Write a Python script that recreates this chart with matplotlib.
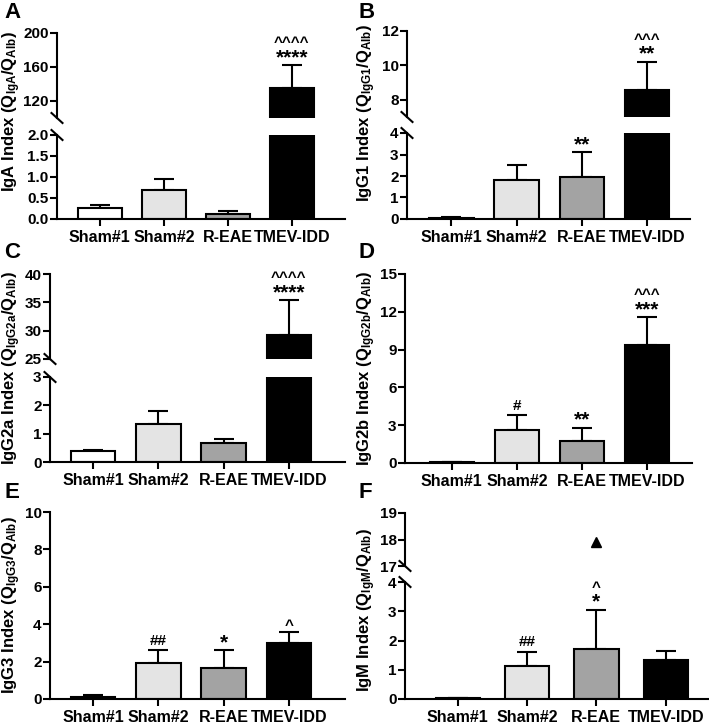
import matplotlib
matplotlib.use("Agg")
import matplotlib.pyplot as plt
from matplotlib.ticker import FormatStrFormatter

plt.rcParams['font.family'] = ['Liberation Sans', 'DejaVu Sans']
plt.rcParams['font.weight'] = 'bold'
plt.rcParams['mathtext.fontset'] = 'custom'
plt.rcParams['mathtext.rm'] = 'Liberation Sans:bold'
plt.rcParams['mathtext.bf'] = 'Liberation Sans:bold'
plt.rcParams['mathtext.it'] = 'Liberation Sans:bold:italic'

# ---------------- data ----------------
groups = ['Sham#1', 'Sham#2', 'R-EAE', 'TMEV-IDD']
bar_colors = ['white', '#e4e4e4', '#a3a3a3', 'black']

iga_mean = [0.25, 0.70, 0.13, 135.0]
iga_sem = [0.08, 0.25, 0.05, 27.0]
igg1_mean = [0.05, 1.80, 1.95, 8.55]
igg1_sem = [0.02, 0.70, 1.15, 1.65]
igg2a_mean = [0.38, 1.35, 0.68, 29.2]
igg2a_sem = [0.04, 0.45, 0.14, 6.2]
igg2b_mean = [0.05, 2.65, 1.75, 9.35]
igg2b_sem = [0.03, 1.15, 1.05, 2.2]
igg3_mean = [0.12, 1.95, 1.65, 3.0]
igg3_sem = [0.10, 0.65, 0.95, 0.6]
igm_mean = [0.03, 1.12, 1.70, 1.35]
igm_sem = [0.02, 0.50, 1.35, 0.30]
igm_outlier_group = 2
igm_outlier_value = 17.9

iga_sig = ['', '', '', '^^^^\n****']
igg1_sig = ['', '', '**', '^^^\n**']
igg2a_sig = ['', '', '', '^^^^\n****']
igg2b_sig = ['', '#', '**', '^^^\n***']
igg3_sig = ['', '##', '*', '^']
igm_sig = ['', '##', '^\n*', '']

# ---------------- layout ----------------
W, H = 709, 724
fig = plt.figure(figsize=(W / 100, H / 100), dpi=100)


def rect(l, t, r, b):
    return [l / W, 1 - b / H, (r - l) / W, (b - t) / H]


LW = 1.5


def style(ax, bottom=True):
    for s in ['top', 'right']:
        ax.spines[s].set_visible(False)
    ax.spines['left'].set_linewidth(LW)
    ax.spines['bottom'].set_linewidth(LW)
    ax.tick_params(axis='y', direction='out', length=5, width=LW, labelsize=11, pad=1)
    for lab in ax.get_yticklabels():
        lab.set_fontweight('bold')
    if bottom:
        ax.tick_params(axis='x', direction='out', length=5, width=LW, labelsize=11.5, pad=3)
        ax.set_xticks(range(len(groups)))
        ax.set_xticklabels(groups, fontweight='bold')
    else:
        ax.spines['bottom'].set_visible(False)
        ax.tick_params(axis='x', bottom=False, labelbottom=False)


SYM = {'*': (15, 1.5), '^': (11, 1.0), '#': (11, 4.0)}


def annotate(ax, x, y, text):
    if not text:
        return
    lines = text.split('\n')[::-1]
    off = 0
    for k, line in enumerate(lines):
        size, base = SYM[line[0]]
        off = base if k == 0 else off + 11.5
        ax.annotate(line, (x, y), xytext=(0, off), textcoords='offset points',
                    ha='center', va='baseline', fontsize=size, fontweight='bold',
                    annotation_clip=False)


def draw_bars(ax, mean, sem, width):
    x = list(range(len(groups)))
    ax.bar(x, mean, width=width, color=bar_colors, edgecolor='black', linewidth=LW, zorder=2)
    ax.errorbar(x, mean, yerr=[[0] * len(mean), sem], fmt='none', ecolor='black',
                elinewidth=LW, capsize=7.5, capthick=LW, zorder=1)


def break_mark(ax, where):
    y = 0 if where == 'bottom' else 1
    bb = ax.get_position()
    dx = 5.5 / (bb.width * W)
    dy = 5.0 / (bb.height * H)
    ax.plot([-dx, dx], [y + dy, y - dy], transform=ax.transAxes, color='black',
            lw=LW, clip_on=False)


def panel(letter, lx, ly, ylabel, lab_xy, mean, sem, sig, xlim, l, r,
          single=None, upper=None, lower=None, width=0.68, fmt=None,
          outlier=None):
    fig.text(lx / W, 1 - ly / H, letter, fontsize=16, fontweight='bold', ha='left', va='top')
    fig.text(lab_xy[0] / W, 1 - lab_xy[1] / H, ylabel, rotation=90, fontsize=12,
             fontweight='bold', ha='center', va='center')
    tops = [m + s for m, s in zip(mean, sem)]
    if single is not None:
        t, b, ylim, ticks = single
        ax = fig.add_axes(rect(l, t, r, b))
        draw_bars(ax, mean, sem, width)
        ax.set_ylim(*ylim)
        ax.set_yticks(ticks)
        ax.set_xlim(*xlim)
        style(ax)
        for i, s in enumerate(sig):
            annotate(ax, i, tops[i], s)
        return
    ut, ub, uylim, uticks = upper
    lt, lb, lylim, lticks = lower
    axu = fig.add_axes(rect(l, ut, r, ub))
    axl = fig.add_axes(rect(l, lt, r, lb))
    for ax, ylim, ticks, bottom in [(axu, uylim, uticks, False), (axl, lylim, lticks, True)]:
        draw_bars(ax, mean, sem, width)
        ax.set_ylim(*ylim)
        ax.set_yticks(ticks)
        ax.set_xlim(*xlim)
        style(ax, bottom)
    if fmt:
        axl.yaxis.set_major_formatter(FormatStrFormatter(fmt))
        for lab in axl.get_yticklabels():
            lab.set_fontweight('bold')
    break_mark(axu, 'bottom')
    break_mark(axl, 'top')
    for i, s in enumerate(sig):
        ax = axu if tops[i] > lylim[1] else axl
        annotate(ax, i, tops[i], s)
    if outlier is not None:
        gi, val = outlier
        axu.plot([gi], [val], marker='^', color='black', markersize=7.5, clip_on=False, zorder=3)


panel('A', 4, 2, r'IgA Index (Q$_{\mathbf{IgA}}$/Q$_{\mathbf{Alb}}$)', (12, 112),
      iga_mean, iga_sem, iga_sig, (-0.67, 3.83), 57, 345,
      upper=(33, 118, (100, 200), [120, 160, 200]),
      lower=(135, 219, (0, 2), [0, 0.5, 1.0, 1.5, 2.0]), fmt='%.1f')

panel('B', 359, 2, r'IgG1 Index (Q$_{\mathbf{IgG1}}$/Q$_{\mathbf{Alb}}$)', (367, 113),
      igg1_mean, igg1_sem, igg1_sig, (-0.68, 3.66), 407, 690,
      upper=(31, 117, (7, 12), [8, 10, 12]),
      lower=(133, 219, (0, 4), [0, 1, 2, 3, 4]))

panel('C', 4, 242, r'IgG2a Index (Q$_{\mathbf{IgG2a}}$/Q$_{\mathbf{Alb}}$)', (12, 368),
      igg2a_mean, igg2a_sem, igg2a_sig, (-0.66, 3.86), 50, 345,
      upper=(274, 359, (25, 40), [25, 30, 35, 40]),
      lower=(377, 462, (0, 3), [0, 1, 2, 3]))

panel('D', 359, 242, r'IgG2b Index (Q$_{\mathbf{IgG2b}}$/Q$_{\mathbf{Alb}}$)', (367, 368),
      igg2b_mean, igg2b_sem, igg2b_sig, (-0.72, 3.69), 405, 692,
      single=(274, 463, (0, 15), [0, 3, 6, 9, 12, 15]))

panel('E', 4, 482, r'IgG3 Index (Q$_{\mathbf{IgG3}}$/Q$_{\mathbf{Alb}}$)', (12, 605),
      igg3_mean, igg3_sem, igg3_sig, (-0.66, 3.86), 50, 345,
      single=(512, 699, (0, 10), [0, 2, 4, 6, 8, 10]))

panel('F', 359, 482, r'IgM Index (Q$_{\mathbf{IgM}}$/Q$_{\mathbf{Alb}}$)', (367, 610),
      igm_mean, igm_sem, igm_sig, (-0.76, 3.61), 405, 708,
      upper=(513, 566, (17, 19), [17, 18, 19]),
      lower=(582, 699, (0, 4), [0, 1, 2, 3, 4]), width=0.64,
      outlier=(igm_outlier_group, igm_outlier_value))

fig.savefig('out.png', dpi=100)
